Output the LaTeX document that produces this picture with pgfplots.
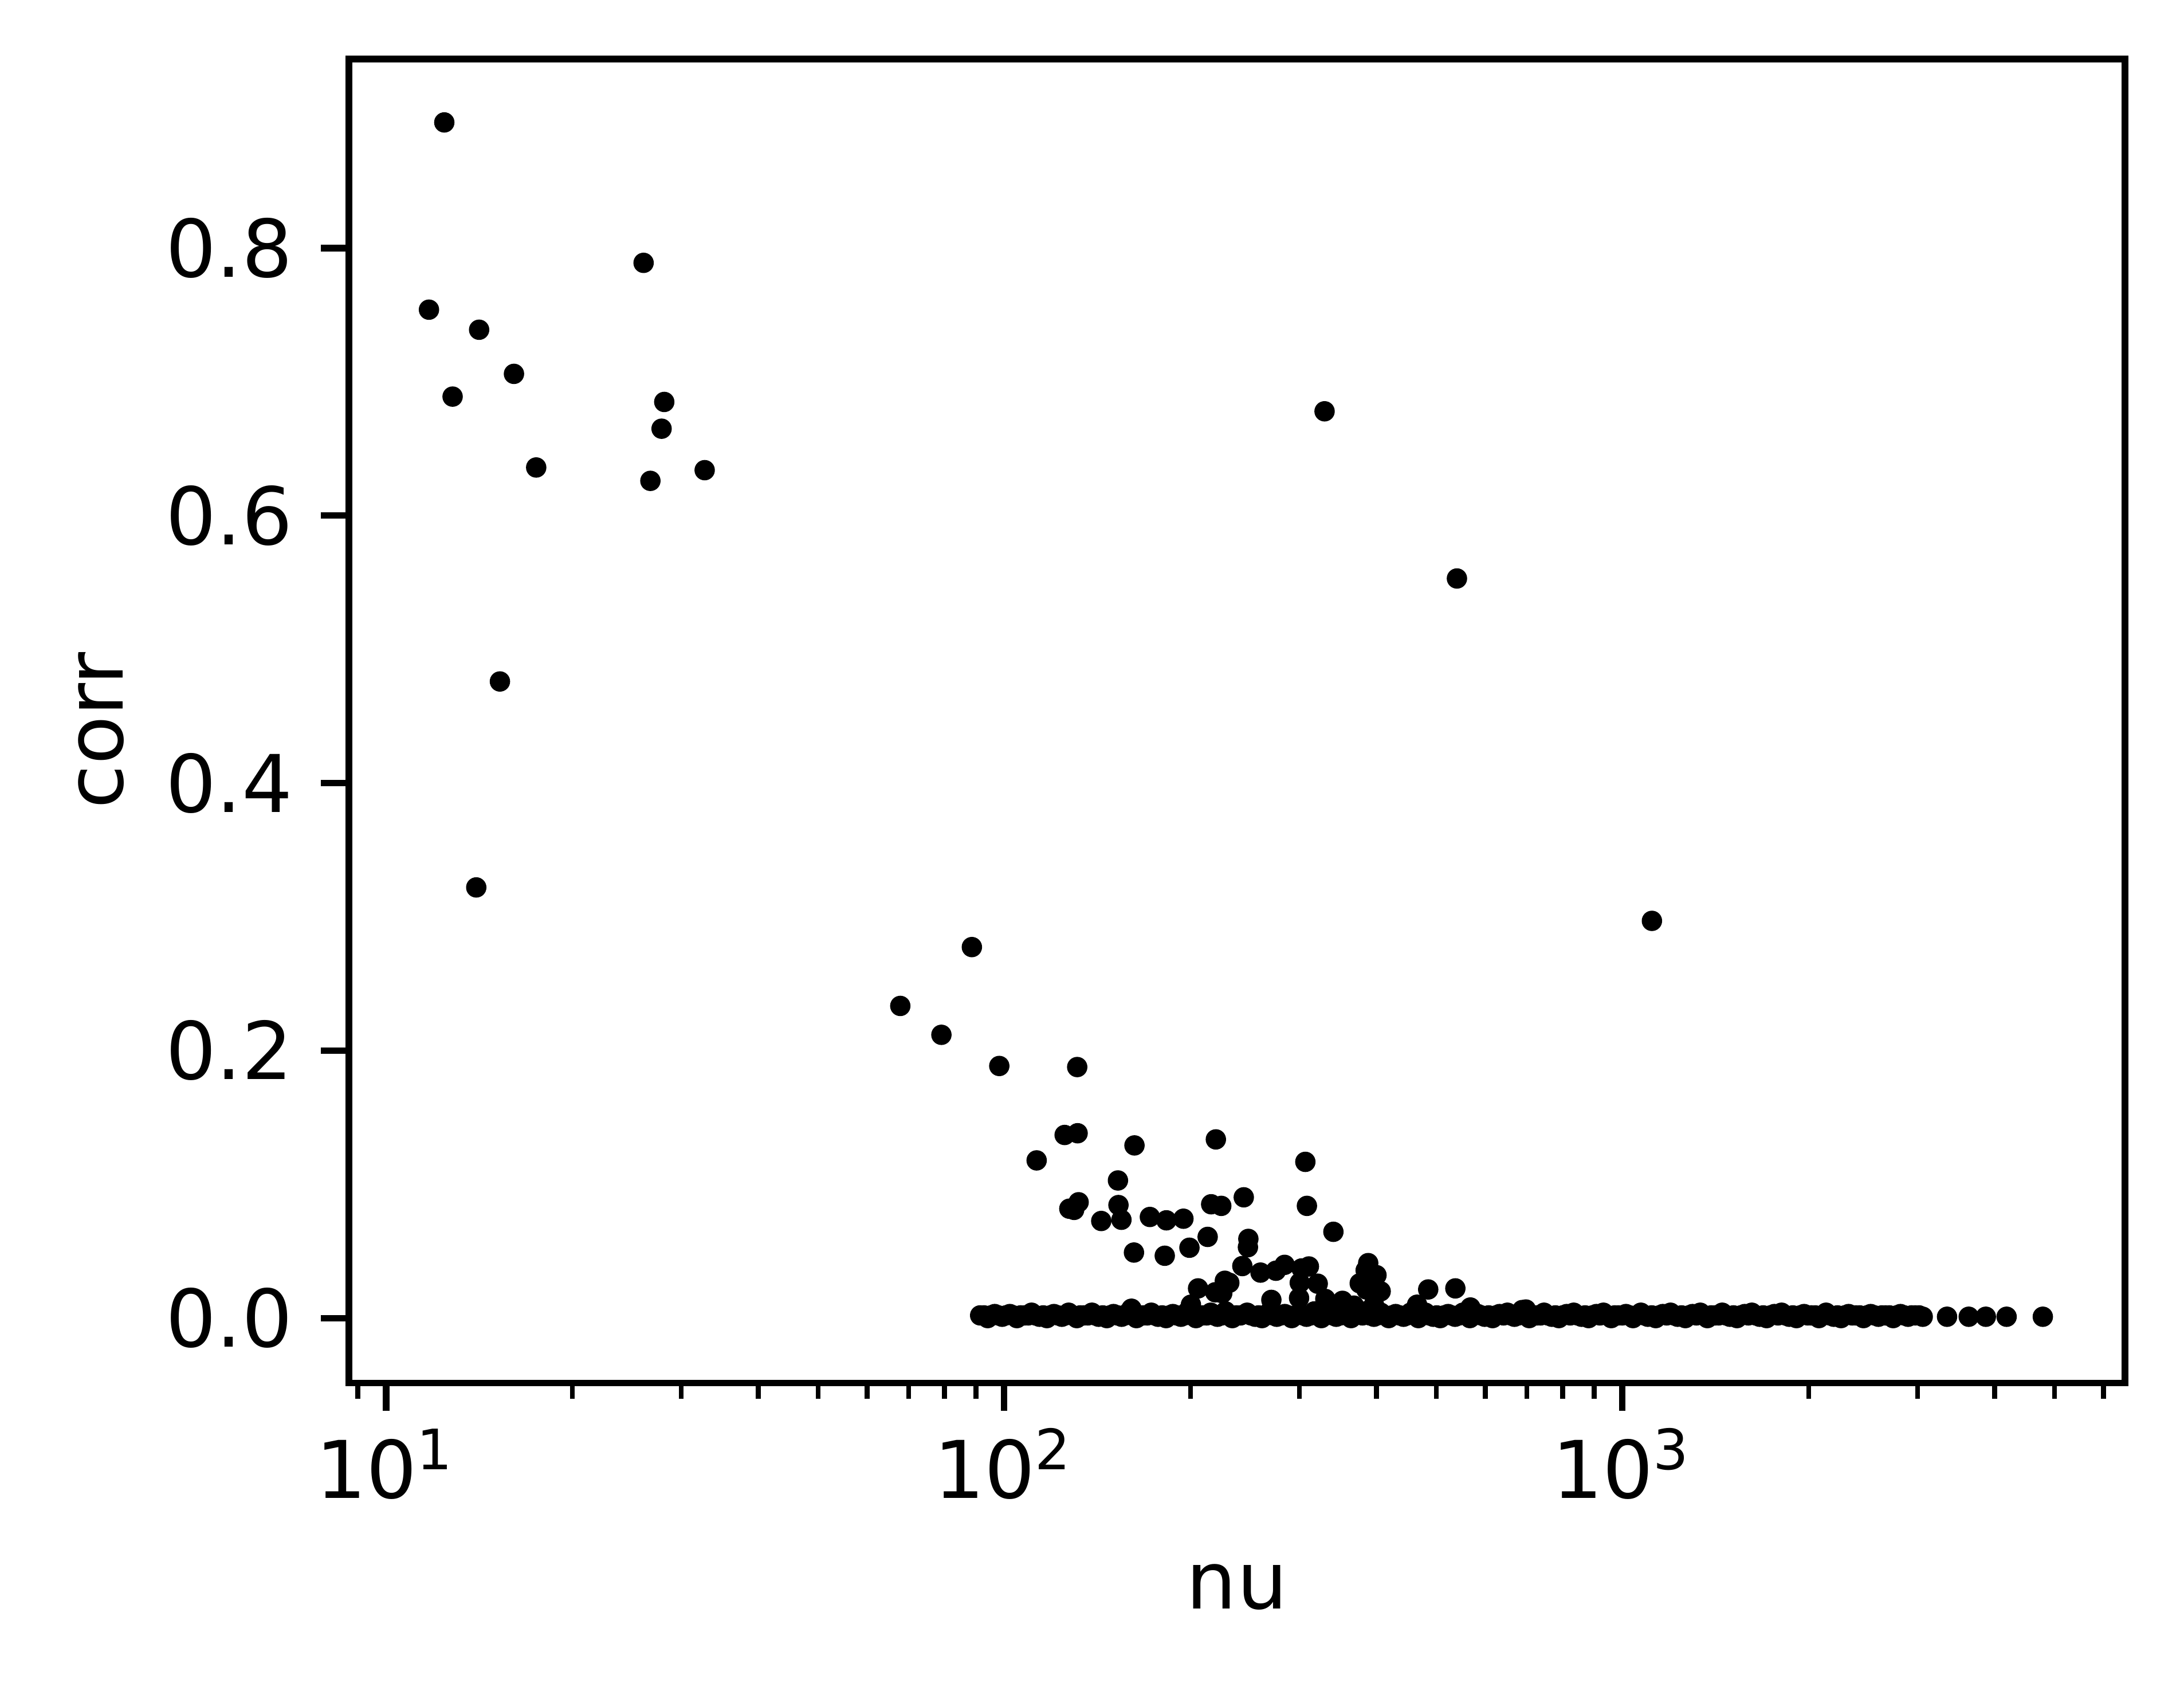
\documentclass[border=0pt]{standalone}
\usepackage{fontspec}
\setmainfont{DejaVu Sans}
\usepackage{pgfplots}
\pgfplotsset{compat=1.18}
\begin{document}
\begin{tikzpicture}
\begin{axis}[
  at={(0,0)}, anchor=south west,
  scale only axis, width=223.18bp, height=166.31bp,
  xmode=log, xmin=8.705, xmax=6500,
  ymin=-0.0484, ymax=0.9414,
  axis line style={black, line width=0.8bp},
  tick align=outside, tick pos=left,
  major tick length=3.5bp, minor tick length=2bp,
  every tick/.style={black, line width=0.8bp},
  every minor tick/.style={black, line width=0.6bp},
  xtick={10,100,1000},
  xticklabels={10\textsuperscript{1},10\textsuperscript{2},10\textsuperscript{3}},
  minor xtick={9,20,30,40,50,60,70,80,90,200,300,400,500,600,700,800,900,2000,3000,4000,5000,6000},
  ytick={0,0.2,0.4,0.6,0.8},
  yticklabels={0.0,0.2,0.4,0.6,0.8},
  xticklabel style={anchor=base, inner sep=0pt, yshift=-11.0bp},
  yticklabel style={anchor=east, inner sep=0pt, xshift=-3.4bp},
  every axis x label/.style={at={([yshift=-28.4bp]axis description cs:0.5,0)}, anchor=base},
  every axis y label/.style={at={([xshift=-28.4bp,yshift=-1.2bp]axis description cs:0,0.5)}, rotate=90, anchor=base},
  xlabel={nu}, ylabel={corr},
  label style={font=\fontsize{10bp}{12bp}\selectfont},
  tick label style={font=\fontsize{10bp}{12bp}\selectfont},
]
\addplot[only marks, mark=*, mark size=1.08bp, mark options={draw=none, fill=black}] table {
x y
12.42 0.894
11.73 0.754
14.14 0.739
12.81 0.689
16.10 0.706
17.49 0.636
26.09 0.789
28.18 0.685
27.90 0.665
26.76 0.626
32.76 0.634
15.28 0.476
13.99 0.322
329.7 0.678
539.8 0.553
1115.9 0.297
67.88 0.2334
79.13 0.2118
88.62 0.2774
98.15 0.1885
131.2 0.1877
112.8 0.1179
125.2 0.1369
131.4 0.1382
162.4 0.1291
152.7 0.1029
153.0 0.0845
154.7 0.0735
143.5 0.0726
131.9 0.0866
129.7 0.0809
127.4 0.0818
172.0 0.0756
162.1 0.0490
181.8 0.0466
219.9 0.1336
306.9 0.1168
308.7 0.0839
340.7 0.0645
182.9 0.0731
194.9 0.0743
199.3 0.0526
213.3 0.0607
216.1 0.0851
224.4 0.0839
244.0 0.0903
248.2 0.0592
247.8 0.0530
242.7 0.0389
259.7 0.0340
275.0 0.0354
284.1 0.0398
205.8 0.0222
227.4 0.0279
231.2 0.0264
219.4 0.0193
225.2 0.0186
270.4 0.0136
302.6 0.0371
311.0 0.0386
300.6 0.0264
321.4 0.0257
299.8 0.0150
330.6 0.0143
352.4 0.0129
367.8 0.0093
387.9 0.0411
384.3 0.0357
400.0 0.0321
375.8 0.0260
406.3 0.0200
385.2 0.0214
396.3 0.0100
485.0 0.0214
536.6 0.0222
465.3 0.0100
567.5 0.0079
697.9 0.0064
160.6 0.0070
200.4 0.0100
91.4 0.002
94.0 0.000
96.5 0.003
99.2 0.001
102.1 0.003
104.8 0.000
107.9 0.002
110.7 0.004
114.0 0.001
117.2 0.000
120.3 0.003
123.9 0.001
127.1 0.004
131.0 0.000
134.5 0.002
138.6 0.004
142.1 0.001
146.5 0.000
150.2 0.003
154.8 0.001
158.7 0.004
163.6 0.000
167.8 0.002
172.9 0.004
177.3 0.001
182.7 0.000
187.4 0.003
193.1 0.001
198.1 0.005
204.2 0.000
209.3 0.002
215.8 0.004
221.2 0.001
228.0 0.005
233.8 0.000
241.0 0.002
247.1 0.004
254.6 0.001
261.1 0.000
269.0 0.005
275.9 0.001
284.3 0.003
291.7 0.000
300.5 0.004
308.3 0.001
317.5 0.005
325.8 0.000
335.6 0.003
344.3 0.001
354.8 0.004
363.9 0.000
374.9 0.003
384.6 0.005
396.2 0.001
406.5 0.004
418.7 0.000
429.6 0.003
442.4 0.001
454.0 0.004
467.6 0.000
479.9 0.004
494.2 0.001
507.2 0.000
522.3 0.003
536.0 0.001
551.9 0.004
566.4 0.000
583.3 0.003
598.6 0.001
616.4 0.000
632.7 0.003
651.5 0.004
668.6 0.001
688.4 0.006
706.6 0.000
727.5 0.002
746.7 0.004
768.9 0.001
789.1 0.000
812.5 0.003
834.0 0.004
858.7 0.001
881.5 0.000
907.5 0.003
931.5 0.004
959.0 0.000
984.3 0.002
1013 0.003
1040 0.000
1071 0.004
1099 0.001
1132 0.000
1162 0.003
1196 0.004
1228 0.001
1264 0.000
1298 0.003
1336 0.004
1372 0.000
1412 0.002
1450 0.004
1492 0.001
1532 0.000
1577 0.003
1619 0.004
1667 0.001
1711 0.000
1761 0.003
1809 0.004
1861 0.001
1912 0.000
1967 0.003
2020 0.002
2079 0.000
2135 0.004
2197 0.001
2257 0.000
2322 0.003
2385 0.002
2454 0.000
2521 0.003
2594 0.001
2664 0.002
2741 0.000
2816 0.003
2897 0.001
2976 0.002
3060 0.001
3350 0.001
3632 0.001
3871 0.001
4182 0.001
4786 0.001
92.7 0.002
95.2 0.002
97.8 0.002
100.6 0.002
103.4 0.002
106.3 0.002
109.3 0.002
112.3 0.002
115.6 0.002
118.7 0.002
122.1 0.002
125.5 0.002
129.0 0.002
132.7 0.002
136.5 0.002
140.3 0.002
144.3 0.002
148.3 0.002
152.5 0.002
156.7 0.002
161.1 0.002
165.7 0.002
170.3 0.002
175.1 0.002
180.0 0.002
185.0 0.002
190.2 0.002
195.6 0.002
201.1 0.002
206.7 0.002
212.5 0.002
218.5 0.002
224.6 0.002
230.9 0.002
237.4 0.002
250.8 0.002
257.8 0.002
265.0 0.002
272.4 0.002
280.1 0.002
288.0 0.002
296.1 0.002
304.4 0.002
312.9 0.002
321.6 0.002
330.7 0.002
340.0 0.002
349.5 0.002
359.3 0.002
369.4 0.002
379.7 0.002
390.4 0.002
401.3 0.002
412.6 0.002
424.1 0.002
436.0 0.002
448.2 0.002
460.8 0.002
473.7 0.002
487.0 0.002
500.7 0.002
514.7 0.002
529.1 0.002
544.0 0.002
559.2 0.002
574.9 0.002
591.0 0.002
607.5 0.002
624.5 0.002
642.1 0.002
660.0 0.002
678.5 0.002
697.5 0.002
717.0 0.002
737.1 0.002
757.8 0.002
779.0 0.002
800.8 0.002
823.2 0.002
846.3 0.002
870.0 0.002
894.4 0.002
919.4 0.002
945.2 0.002
971.6 0.002
998.8 0.002
1027 0.002
1055 0.002
1085 0.002
1115 0.002
1147 0.002
1179 0.002
1212 0.002
1246 0.002
1281 0.002
1317 0.002
1354 0.002
1392 0.002
1431 0.002
1471 0.002
1512 0.002
1554 0.002
1598 0.002
1643 0.002
1689 0.002
1736 0.002
1785 0.002
1835 0.002
1886 0.002
1939 0.002
1994 0.002
2050 0.002
2107 0.002
2166 0.002
2227 0.002
2289 0.002
2353 0.002
2419 0.002
2487 0.002
2557 0.002
2629 0.002
2702 0.002
2778 0.002
2856 0.002
2936 0.002
3018 0.002
};
\end{axis}
\pgfresetboundingbox
\path[use as bounding box] (-43.84bp,-37.65bp) rectangle (230.6bp,173.73bp);
\end{tikzpicture}
\end{document}
